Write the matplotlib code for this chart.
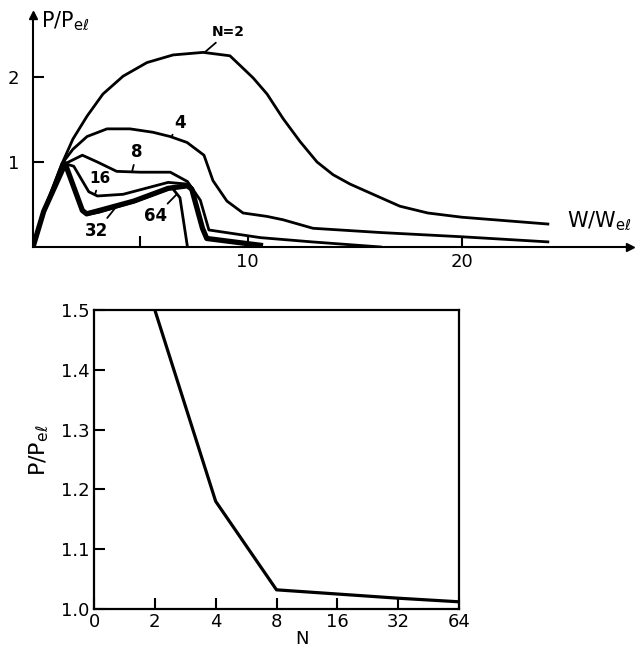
#!/usr/bin/env python3
"""Power ratio vs. W/Wel for several N, and P/Pel vs N"""
import numpy as np
import matplotlib.pyplot as plt

plt.rcParams.update({
    'font.family': 'DejaVu Sans',
    'font.size': 13,
})

# --- top panel data ---
w_n2 = [0, 0.5, 1.35, 1.86, 2.52, 3.26, 4.2, 5.31, 6.53, 7.93, 9.18, 10.26, 10.91,
        11.66, 12.45, 13.24, 13.99, 14.78, 15.85, 17.1, 18.4, 20.0, 24.0]
p_n2 = [0, 0.42, 0.98, 1.27, 1.54, 1.80, 2.01, 2.17, 2.26, 2.29, 2.25, 1.99, 1.80,
        1.51, 1.24, 1.00, 0.85, 0.74, 0.62, 0.48, 0.40, 0.35, 0.27]

w_n4 = [0, 0.5, 1.35, 1.86, 2.52, 3.45, 4.52, 5.59, 6.39, 7.18, 7.97, 8.39, 9.04,
        9.79, 10.9, 11.66, 13.05, 16.2, 20.0, 24.0]
p_n4 = [0, 0.42, 0.98, 1.15, 1.30, 1.39, 1.39, 1.35, 1.30, 1.23, 1.08, 0.78, 0.54,
        0.40, 0.36, 0.32, 0.22, 0.17, 0.12, 0.06]

w_n8 = [0, 0.5, 1.5, 2.3, 3.0, 3.9, 5.0, 6.4, 7.2, 7.8, 8.2, 10.6, 13.0, 16.2]
p_n8 = [0, 0.42, 0.98, 1.08, 1.00, 0.89, 0.88, 0.88, 0.77, 0.55, 0.20, 0.11, 0.06, 0.0]

w_n16 = [0, 0.5, 1.5, 1.9, 2.6, 3.0, 4.2, 6.3, 7.2, 7.4, 7.9, 8.1, 10.6]
p_n16 = [0, 0.42, 0.98, 0.95, 0.65, 0.60, 0.62, 0.76, 0.74, 0.70, 0.22, 0.10, 0.02]

w_n32 = [0, 0.5, 1.5, 2.3, 2.5, 3.1, 4.7, 6.3, 7.2, 7.4, 7.9, 8.1, 10.6]
p_n32 = [0, 0.42, 0.98, 0.43, 0.39, 0.43, 0.54, 0.69, 0.72, 0.68, 0.22, 0.10, 0.02]

w_n64 = [0, 0.5, 1.5, 2.3, 2.5, 3.1, 4.7, 6.3, 6.5, 6.85, 7.2]
p_n64 = [0, 0.42, 0.98, 0.43, 0.38, 0.41, 0.53, 0.68, 0.69, 0.58, 0.0]

# --- bottom panel data ---
n_vals = [2, 4, 8, 16, 32, 64]
p_peak = [1.50, 1.18, 1.032, 1.025, 1.018, 1.012]
n_ticklabels = ['0', '2', '4', '8', '16', '32', '64']

fig = plt.figure(figsize=(6.36, 6.52), dpi=100)

# ---------------- top panel ----------------
ax1 = fig.add_axes([0.0519, 0.6212, 0.9387, 0.3558])
ax1.set_xlim(0, 27.83)
ax1.set_ylim(0, 2.73)
for s in ('top', 'right'):
    ax1.spines[s].set_visible(False)
for s in ('left', 'bottom'):
    ax1.spines[s].set_linewidth(1.5)

lw = 2.0
ax1.plot(w_n2, p_n2, 'k-', lw=lw, solid_joinstyle='round')
ax1.plot(w_n4, p_n4, 'k-', lw=lw, solid_joinstyle='round')
ax1.plot(w_n8, p_n8, 'k-', lw=lw, solid_joinstyle='round')
ax1.plot(w_n16, p_n16, 'k-', lw=lw, solid_joinstyle='round')
ax1.plot(w_n32, p_n32, 'k-', lw=3.8, solid_joinstyle='round')
ax1.plot(w_n64, p_n64, 'k-', lw=lw, solid_joinstyle='round')

# axis arrows
ax1.plot(1, 0, '>k', ms=6, transform=ax1.transAxes, clip_on=False)
ax1.plot(0, 1, '^k', ms=6, transform=ax1.transAxes, clip_on=False)

ax1.set_xticks([5, 10, 20])
ax1.set_xticklabels(['', '10', '20'])
ax1.set_yticks([1, 2])
ax1.set_yticklabels(['1', '2'])
ax1.tick_params(direction='in', length=8, width=1.5, labelsize=13)
ax1.tick_params(axis='y', pad=10)
ax1.tick_params(axis='x', pad=4)

# curve labels with leader lines
labels = [
    ('N=2', (8.0, 2.29), (9.1, 2.53), 10),
    ('4', (6.48, 1.31), (6.85, 1.46), 12),
    ('8', (4.62, 0.89), (4.85, 1.12), 12),
    ('16', (2.89, 0.62), (3.12, 0.80), 11),
    ('32', (3.9, 0.48), (2.98, 0.19), 12),
    ('64', (6.7, 0.62), (5.69, 0.36), 12),
]
for txt, xy, xyt, fs in labels:
    ax1.annotate(txt, xy=xy, xytext=xyt, ha='center', va='center',
                 fontsize=fs, fontweight='bold',
                 arrowprops=dict(arrowstyle='-', lw=1.3, shrinkA=1, shrinkB=0))

ax1.text(0.35, 2.80, r'P/P$_{\mathsf{e}\ell}$', fontsize=15, ha='left', va='top')
ax1.text(24.9, 0.30, r'W/W$_{\mathsf{e}\ell}$', fontsize=15, ha='left', va='center')

# ---------------- bottom panel ----------------
ax2 = fig.add_axes([0.1478, 0.066, 0.5739, 0.4586])
ax2.plot(np.log2(n_vals), p_peak, 'k-', lw=2.3)
ax2.set_xlim(0, 6)
ax2.set_ylim(1.0, 1.5)
for s in ax2.spines.values():
    s.set_linewidth(1.6)
ax2.set_xticks(range(7))
ax2.set_xticklabels(n_ticklabels)
ax2.set_yticks([1.0, 1.1, 1.2, 1.3, 1.4, 1.5])
ax2.set_yticklabels(['1.0', '1.1', '1.2', '1.3', '1.4', '1.5'])
ax2.tick_params(direction='in', length=8, width=1.5, labelsize=13, pad=3)
ax2.set_xlabel('N', fontsize=13)
ax2.xaxis.set_label_coords(0.57, -0.07)
ax2.set_ylabel(r'P/P$_{\mathsf{e}\ell}$', fontsize=16)
ax2.yaxis.set_label_coords(-0.12, 0.53)

plt.savefig('out.png', dpi=100)
